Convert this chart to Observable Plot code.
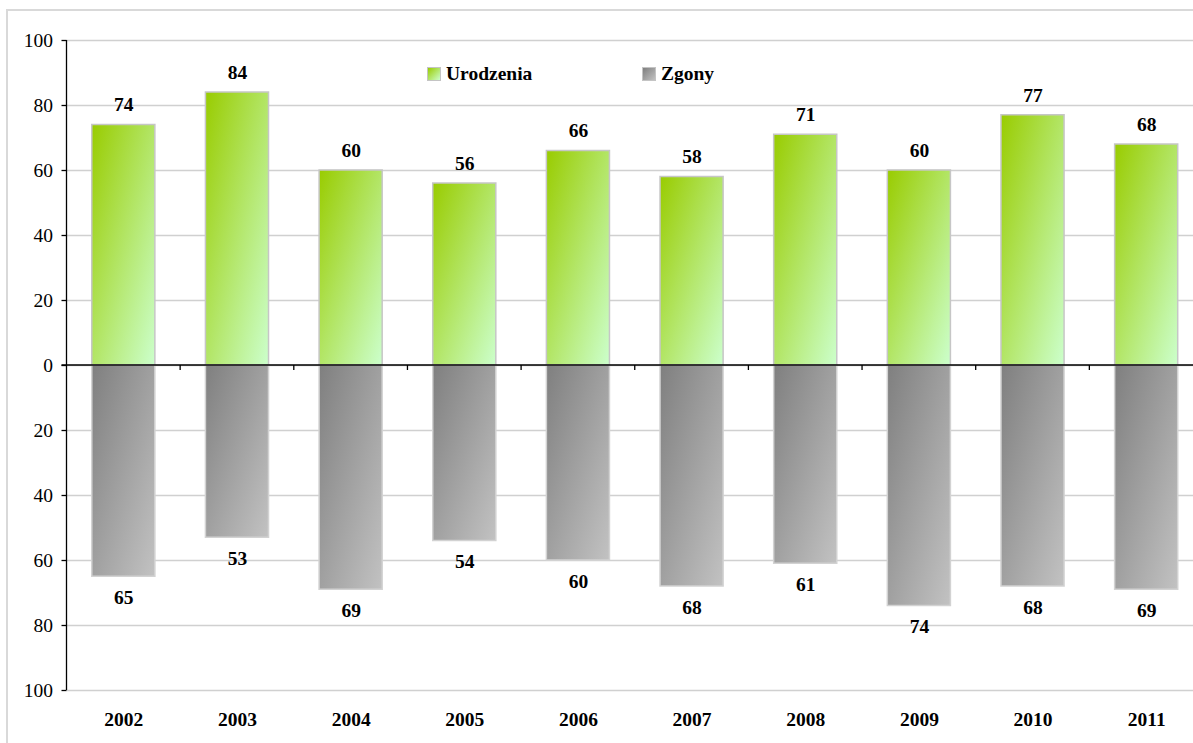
<!DOCTYPE html>
<html>
<head>
<meta charset="utf-8">
<script src="https://cdn.jsdelivr.net/npm/d3@7"></script>
<script src="https://cdn.jsdelivr.net/npm/@observablehq/plot@0.6"></script>
<style>
  html, body { margin: 0; padding: 0; background: #fff; }
  #wrap { position: relative; width: 1193px; height: 743px; overflow: hidden; font-family: "Liberation Serif", "Times New Roman", Times, "DejaVu Serif", serif; }
  #border { position: absolute; left: 6px; top: 9px; width: 1400px; height: 1000px; border: 2px solid #d9d9d9; box-sizing: border-box; }
  #chart { position: absolute; left: 0; top: 0; }
  .legend { position: absolute; top: 63px; display: flex; align-items: center; font-weight: bold; font-size: 19.5px; color: #000; }
  .legend .sw { width: 12px; height: 12px; border: 1px solid #c4c4c4; margin-right: 5px; }
</style>
</head>
<body>
<div id="wrap">
  <div id="border"></div>
  <div id="chart"></div>
</div>
<script>
// Births and deaths per year
const years = ["2002", "2003", "2004", "2005", "2006", "2007", "2008", "2009", "2010", "2011"];
const births = [74, 84, 60, 56, 66, 58, 71, 60, 77, 68];
const deaths = [65, 53, 69, 54, 60, 68, 61, 74, 68, 69];
const seriesNames = ["Urodzenia", "Zgony"];
const yTicks = [-100, -80, -60, -40, -20, 0, 20, 40, 60, 80, 100];

const serif = "'Liberation Serif', 'Times New Roman', Times, 'DejaVu Serif', serif";
const fontSize = 19.5;

const birthRows = years.map((year, i) => ({year, value: births[i]}));
const deathRows = years.map((year, i) => ({year, value: deaths[i]}));

// Diagonal gradients used by the bars
const gradients = () => {
  const defs = d3.create("svg:defs");
  const add = (id, from, to) => {
    const g = defs.append("linearGradient").attr("id", id)
      .attr("x1", 0).attr("y1", 0).attr("x2", 1).attr("y2", 1);
    g.append("stop").attr("offset", "0%").attr("stop-color", from);
    g.append("stop").attr("offset", "100%").attr("stop-color", to);
  };
  add("gradBirths", "#99cc00", "#ccffcc");
  add("gradDeaths", "#7f7f7f", "#c2c2c2");
  return defs.node();
};

// Vertical axis line plus the small category ticks along the zero line
const axisLines = (index, scales) => {
  const {x, y} = scales;
  const g = d3.create("svg:g");
  const bw = x.bandwidth();
  const step = x.step();
  g.append("line")
    .attr("x1", x.range()[0]).attr("x2", x.range()[0])
    .attr("y1", y(-100)).attr("y2", y(100))
    .attr("stroke", "#000").attr("stroke-width", 1.3);
  g.append("line")
    .attr("x1", x.range()[0] - 5).attr("x2", x.range()[1])
    .attr("y1", y(0)).attr("y2", y(0))
    .attr("stroke", "#000").attr("stroke-width", 1.3);
  for (const year of years.slice(1)) {
    const bx = x(year) - (step - bw) / 2;
    g.append("line")
      .attr("x1", bx).attr("x2", bx)
      .attr("y1", y(0)).attr("y2", y(0) + 5)
      .attr("stroke", "#000").attr("stroke-width", 1.3);
  }
  return g.node();
};

const chart = Plot.plot({
  width: 1193,
  height: 743,
  marginTop: 40,
  marginBottom: 53,
  marginLeft: 66.5,
  marginRight: -10,
  style: {fontFamily: serif, background: "transparent", overflow: "visible"},
  x: {domain: years, paddingInner: 0.445, paddingOuter: 0.2225, round: false, label: null},
  y: {domain: [-100, 100], label: null},
  marks: [
    gradients,
    Plot.gridY(yTicks, {stroke: "#d0d0d0", strokeOpacity: 1, strokeWidth: 1.3}),
    Plot.barY(birthRows, {x: "year", y1: 0, y2: "value", fill: "url(#gradBirths)", stroke: "#c6c6c6", strokeWidth: 1.5}),
    Plot.barY(deathRows, {x: "year", y1: 0, y2: d => -d.value, fill: "url(#gradDeaths)", stroke: "#d2d2d2", strokeWidth: 1.5}),
    axisLines,
    Plot.axisY(yTicks, {tickFormat: d => Math.abs(d), tickSize: 5, tickPadding: 9, fontSize, fontFamily: serif, stroke: "#000", strokeWidth: 1.3, label: null}),
    Plot.axisX({tickSize: 0, tickPadding: 22, fontSize, fontWeight: "bold", fontFamily: serif, label: null}),
    Plot.text(birthRows, {x: "year", y: "value", text: d => String(d.value), dy: -20, fontSize, fontWeight: "bold", fontFamily: serif, fill: "#000"}),
    Plot.text(deathRows, {x: "year", y: d => -d.value, text: d => String(d.value), dy: 21, fontSize, fontWeight: "bold", fontFamily: serif, fill: "#000"})
  ]
});

document.getElementById("chart").appendChild(chart);

// Legend placed inside the plot area
const legendItems = [
  {name: seriesNames[0], grad: "linear-gradient(135deg, #99cc00, #ccffcc)", left: 427},
  {name: seriesNames[1], grad: "linear-gradient(135deg, #7f7f7f, #c2c2c2)", left: 642}
];
const wrap = document.getElementById("wrap");
for (const item of legendItems) {
  const el = document.createElement("div");
  el.className = "legend";
  el.style.left = item.left + "px";
  const sw = document.createElement("div");
  sw.className = "sw";
  sw.style.background = item.grad;
  const label = document.createElement("span");
  label.textContent = item.name;
  el.appendChild(sw);
  el.appendChild(label);
  wrap.appendChild(el);
}
</script>
</body>
</html>
